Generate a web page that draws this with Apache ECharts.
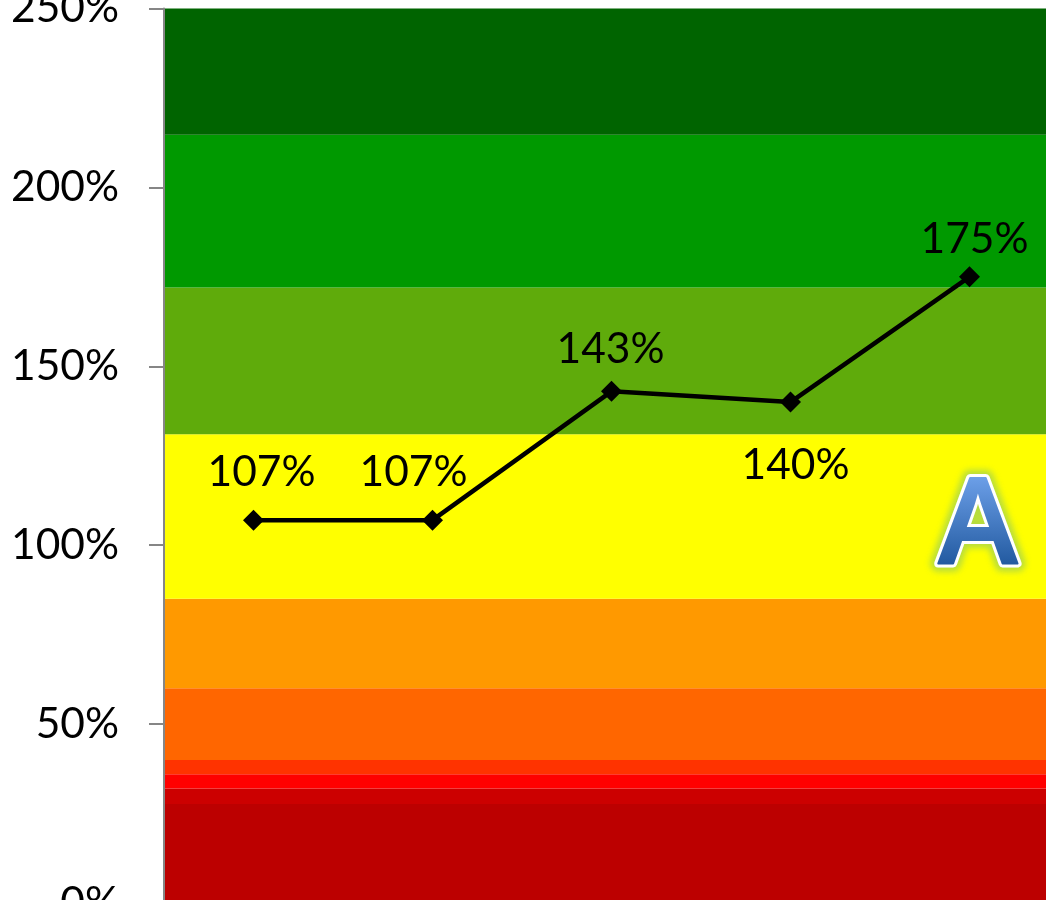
<!DOCTYPE html>
<html>
<head>
<meta charset="utf-8">
<style>
html,body{margin:0;padding:0;background:#fff}
#wrap{position:relative;width:1046px;height:900px;overflow:hidden}
#chart{width:1046px;height:900px}
#grade{position:absolute;left:0;top:0;pointer-events:none}
#grade text{font:600 120px "Open Sans",sans-serif;text-anchor:middle;stroke-linejoin:round}
</style>
<script src="https://cdn.jsdelivr.net/npm/echarts@6/dist/echarts.min.js"></script>
</head>
<body>
<div id="wrap">
<div id="chart"></div>
<!-- Grade letter: gradient face, white outline, soft green halo -->
<svg id="grade" width="1046" height="900">
  <defs>
    <linearGradient id="faceFill" gradientUnits="userSpaceOnUse" x1="0" y1="477" x2="0" y2="566">
      <stop offset="0" stop-color="#6C9FE8"/>
      <stop offset="1" stop-color="#21599F"/>
    </linearGradient>
    <filter id="soft" x="-30%" y="-30%" width="160%" height="160%"><feGaussianBlur stdDeviation="3"/></filter>
  </defs>
  <text x="978" y="564" fill="#a9d648" stroke="#a9d648" stroke-width="16" opacity="0.85" filter="url(#soft)" aria-hidden="true">A</text>
  <text x="978" y="564" fill="#fff" stroke="#fff" stroke-width="8" aria-hidden="true">A</text>
  <text x="978" y="564" fill="url(#faceFill)" stroke="url(#faceFill)" stroke-width="2">A</text>
</svg>
</div>
<script>
// Measured series and its five periods
const periods = ['1', '2', '3', '4', '5'];
const values = [107, 107, 143, 140, 175];
// Label placement per point: pixel offset from the marker's top position
const labelOffsets = [[8, -11], [-19, -11], [-1, -5], [5, 100], [5, -1]];

// Rating bands, bottom to top
const bandEdges = [0, 27.7, 32, 36, 40, 60, 85, 131, 172, 214.7, 250];
const bandColors = ['#BC0000', '#CC0000', '#FF0000', '#FF3300', '#FF6600',
                    '#FF9900', '#FFFF00', '#5FAB0B', '#009900', '#006400'];

const fontFamily = 'Lato, "Open Sans", sans-serif';
const bands = bandColors.map((color, i) => [
  { yAxis: bandEdges[i], itemStyle: { color, opacity: 1 } },
  { yAxis: bandEdges[i + 1] }
]);

const chart = echarts.init(document.getElementById('chart'), null, { renderer: 'canvas' });

chart.setOption({
  animation: false,
  backgroundColor: '#fff',
  grid: { left: 164, top: 8.5, width: 895, height: 894.5, containLabel: false, outerBoundsMode: 'none' },
  xAxis: {
    type: 'category',
    data: periods,
    axisLine: { show: false },
    axisTick: { show: false },
    axisLabel: { show: false }
  },
  yAxis: {
    type: 'value',
    min: 0,
    max: 250,
    interval: 50,
    z: 6,
    splitLine: { show: false },
    axisLine: { show: true, lineStyle: { color: '#868686', width: 2 } },
    axisTick: { show: true, length: 15, lineStyle: { color: '#868686', width: 2 } },
    axisLabel: { formatter: '{value}%', margin: 45, color: '#000', fontSize: 42.5, fontFamily }
  },
  series: [{
    type: 'line',
    data: values.map((value, i) => ({
      value,
      label: { offset: labelOffsets[i] }
    })),
    symbol: 'diamond',
    symbolSize: 21,
    showSymbol: true,
    lineStyle: { color: '#000', width: 4.5 },
    itemStyle: { color: '#000' },
    label: {
      show: true,
      position: 'top',
      formatter: '{c}%',
      color: '#000',
      fontSize: 42.5,
      fontFamily
    },
    markArea: { silent: true, data: bands },
    z: 5
  }]
});
</script>
</body>
</html>
